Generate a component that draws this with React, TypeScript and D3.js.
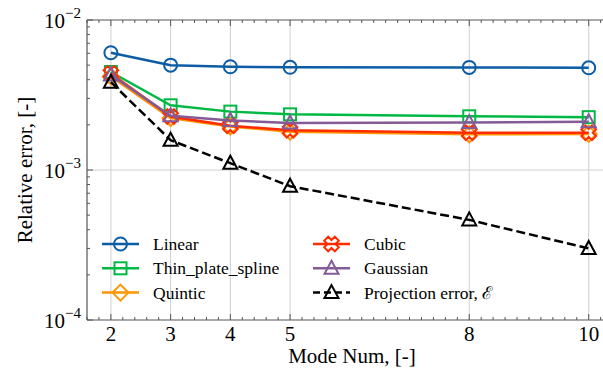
import React from 'react';
import * as d3 from 'd3';

const modes = [2, 3, 4, 5, 8, 10];
const linear = [6.05e-3, 5.0e-3, 4.88e-3, 4.84e-3, 4.83e-3, 4.8e-3];
const thinPlate = [4.5e-3, 2.7e-3, 2.45e-3, 2.35e-3, 2.28e-3, 2.25e-3];
const quintic = [4.2e-3, 2.22e-3, 1.95e-3, 1.8e-3, 1.73e-3, 1.74e-3];
const cubic = [4.4e-3, 2.27e-3, 1.97e-3, 1.84e-3, 1.77e-3, 1.77e-3];
const gaussian = [4.3e-3, 2.3e-3, 2.14e-3, 2.06e-3, 2.07e-3, 2.1e-3];
const projection = [3.85e-3, 1.58e-3, 1.11e-3, 7.8e-4, 4.65e-4, 3.0e-4];
const xTicks = [2, 3, 4, 5, 8, 10];
const yTicks = [1e-4, 1e-3, 1e-2];

const series = [
  { name: 'Linear', values: linear, color: '#0C5DA5', marker: 'circle', dash: '' },
  { name: 'Thin_plate_spline', values: thinPlate, color: '#00B945', marker: 'square', dash: '' },
  { name: 'Quintic', values: quintic, color: '#FF9500', marker: 'diamond', dash: '' },
  { name: 'Cubic', values: cubic, color: '#FF2C00', marker: 'xfilled', dash: '' },
  { name: 'Gaussian', values: gaussian, color: '#845B97', marker: 'triangle', dash: '' },
  { name: 'Projection error, ℰ', values: projection, color: '#000000', marker: 'triangle', dash: '9,4' },
];

const W = 603, H = 369;
const x = d3.scaleLinear().domain([1.6, 10.4]).range([87, 612.6]);
const y = d3.scaleLog().domain([1e-4, 1e-2]).range([320, 20]);

function xPath(s: number) {
  // outline of matplotlib's filled 'X' marker (plus turned 45deg)
  const a = s, b = s * 0.38;
  const pts = [[b, b], [a, b], [a, -b], [b, -b], [b, -a], [-b, -a], [-b, -b], [-a, -b], [-a, b], [-b, b], [-b, a], [b, a]];
  const r = Math.PI / 4;
  return 'M' + pts.map(([px, py]) => [px * Math.cos(r) - py * Math.sin(r), px * Math.sin(r) + py * Math.cos(r)].map(v => v.toFixed(2)).join(',')).join('L') + 'Z';
}

function Marker({ type, cx, cy, color }: { type: string; cx: number; cy: number; color: string }) {
  const common = { fill: 'none', stroke: color, strokeWidth: 2 };
  if (type === 'circle') return <circle cx={cx} cy={cy} r={6.5} {...common} />;
  if (type === 'square') return <rect x={cx - 6} y={cy - 6} width={12} height={12} {...common} />;
  if (type === 'diamond') return <path d={`M${cx},${cy - 8}L${cx + 8},${cy}L${cx},${cy + 8}L${cx - 8},${cy}Z`} {...common} />;
  if (type === 'triangle') return <path d={`M${cx},${cy - 7.5}L${cx + 7},${cy + 5.5}L${cx - 7},${cy + 5.5}Z`} {...common} />;
  return <path d={xPath(7.5)} transform={`translate(${cx},${cy})`} {...common} />;
}

export default function App() {
  const line = d3.line<number>().x((_, i) => x(modes[i])).y(d => y(d));
  const xMinor = d3.range(1.6, 10.41, 0.2).filter(v => !xTicks.some(t => Math.abs(t - v) < 1e-6));
  const yMinor: number[] = [];
  [1e-4, 1e-3].forEach(dec => { for (let k = 2; k <= 9; k++) yMinor.push(dec * k); });
  const font = '"Liberation Serif", "DejaVu Serif", serif';
  return (
    <svg width={W} height={H} style={{ position: 'absolute', left: 0, top: 0, background: '#fff', fontFamily: font }}>
      <defs>
        <clipPath id="plot"><rect x={87} y={20} width={530} height={300} /></clipPath>
      </defs>
      {/* grid */}
      {xTicks.map(t => <line key={'gx' + t} x1={x(t)} x2={x(t)} y1={20} y2={320} stroke="#cfcfcf" strokeWidth={1} />)}
      <line x1={87} x2={W} y1={y(1e-3)} y2={y(1e-3)} stroke="#cfcfcf" strokeWidth={1} />
      {/* series */}
      <g clipPath="url(#plot)">
        {series.map(s => (
          <g key={s.name}>
            <path d={line(s.values) || ''} fill="none" stroke={s.color} strokeWidth={2.5} strokeDasharray={s.dash} />
            {s.values.map((v, i) => <Marker key={i} type={s.marker} cx={x(modes[i])} cy={y(v)} color={s.color} />)}
          </g>
        ))}
      </g>
      {/* frame */}
      <line x1={87} x2={W} y1={20} y2={20} stroke="#555" strokeWidth={1.2} />
      <line x1={87} x2={W} y1={320} y2={320} stroke="#555" strokeWidth={1.2} />
      <line x1={87} x2={87} y1={20} y2={320} stroke="#555" strokeWidth={1.2} />
      {/* x ticks */}
      {xTicks.map(t => (
        <g key={'xt' + t}>
          <line x1={x(t)} x2={x(t)} y1={320} y2={314} stroke="#555" />
          <line x1={x(t)} x2={x(t)} y1={20} y2={26} stroke="#555" />
          <text x={x(t)} y={341} textAnchor="middle" fontSize={21}>{t}</text>
        </g>
      ))}
      {xMinor.map(t => (
        <g key={'xm' + t.toFixed(1)}>
          <line x1={x(t)} x2={x(t)} y1={320} y2={317} stroke="#555" />
          <line x1={x(t)} x2={x(t)} y1={20} y2={23} stroke="#555" />
        </g>
      ))}
      {/* y ticks */}
      {yTicks.map(t => (
        <g key={'yt' + t}>
          <line x1={87} x2={93} y1={y(t)} y2={y(t)} stroke="#555" />
          <text x={81} y={y(t) + 8} textAnchor="end" fontSize={21}>
            10<tspan fontSize={15} dy={-10}>{'−' + Math.round(-Math.log10(t))}</tspan>
          </text>
        </g>
      ))}
      {yMinor.map(t => <line key={'ym' + t} x1={87} x2={90} y1={y(t)} y2={y(t)} stroke="#555" />)}
      {/* axis labels */}
      <text x={352} y={363} textAnchor="middle" fontSize={21}>Mode Num, [-]</text>
      <text transform={`translate(32,170) rotate(-90)`} textAnchor="middle" fontSize={21}>Relative error, [-]</text>
      {/* legend */}
      {series.map((s, i) => {
        const col = Math.floor(i / 3);
        const row = i % 3;
        const lx = col === 0 ? 102 : 313;
        const ly = 244 + row * 24.3;
        return (
          <g key={'lg' + s.name}>
            <line x1={lx} x2={lx + 37} y1={ly} y2={ly} stroke={s.color} strokeWidth={2.5} strokeDasharray={s.dash ? '7,4' : ''} />
            <Marker type={s.marker} cx={lx + 18.5} cy={ly} color={s.color} />
            <text x={lx + 51} y={ly + 6} fontSize={17.5}>{s.name}</text>
          </g>
        );
      })}
    </svg>
  );
}
